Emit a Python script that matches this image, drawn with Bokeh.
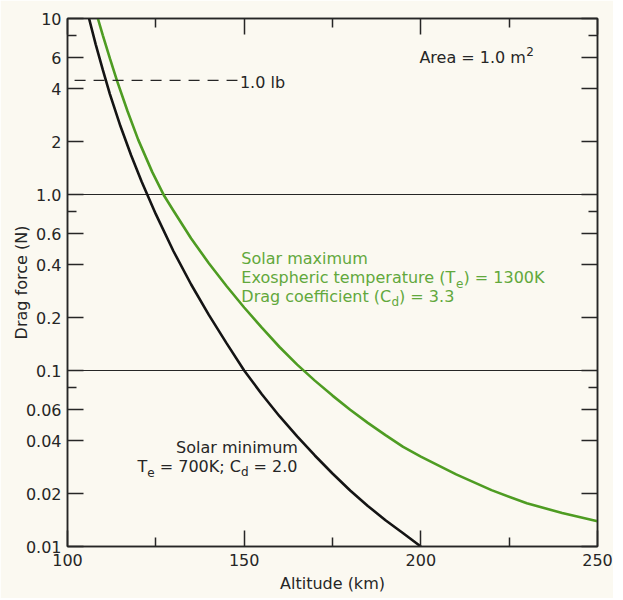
from bokeh.plotting import figure
from bokeh.models import (Range1d, FixedTicker, LinearAxis, LogAxis, Label,
                          CustomJSTickFormatter)
from bokeh.embed import file_html
from bokeh.resources import INLINE

# ---------------- data ----------------
alt_min = [106.1, 108, 110, 112, 115, 118, 121, 125, 130, 135, 140, 145, 150,
           155, 160, 165, 170, 175, 180, 185, 190, 195, 200]
force_min = [10.0, 7.11, 5.10, 3.72, 2.44, 1.67, 1.18, 0.773, 0.476, 0.308,
             0.207, 0.143, 0.100, 0.0733, 0.0550, 0.0422, 0.0329, 0.0260,
             0.0208, 0.0170, 0.0141, 0.0119, 0.0100]

alt_max = [108.6, 110, 112, 114, 117, 120, 124, 127.4, 130, 135, 140, 145, 150,
           155, 160, 165, 170, 175, 180, 185, 190, 195, 200, 210, 220, 230,
           240, 250]
force_max = [10.0, 8.03, 5.93, 4.44, 2.97, 2.05, 1.34, 0.98, 0.809, 0.562,
             0.407, 0.302, 0.228, 0.175, 0.136, 0.108, 0.0876, 0.0720, 0.0599,
             0.0504, 0.0429, 0.0368, 0.0324, 0.0257, 0.0209, 0.0176, 0.0155,
             0.0139]

lb_force = 4.448          # 1.0 lb expressed in newtons
lb_alt = [102, 148.1]     # extent of the dashed reference line

x_ticks = [100, 150, 200, 250]
x_minor = [125, 175, 225]
y_ticks = [0.01, 0.02, 0.04, 0.06, 0.1, 0.2, 0.4, 0.6, 1.0, 2, 4, 6, 10]
y_tick_labels = ["0.01", "0.02", "0.04", "0.06", "0.1", "0.2", "0.4", "0.6",
                 "1.0", "2", "4", "6", "10"]
y_minor = [0.08, 0.8, 8]
y_grid = [0.1, 1.0]

# ---------------- styling ----------------
BG = "#fbf9f1"
INK = "#262626"
GREEN_LINE = "#4e9c22"
GREEN_TEXT = "#62a83c"
FONT = "DejaVu Sans"

p = figure(width=613, height=598, x_range=Range1d(100, 250),
           y_range=Range1d(0.01, 10), y_axis_type="log",
           output_backend="svg", toolbar_location=None,
           min_border_left=67, min_border_right=16, min_border_top=18,
           min_border_bottom=52)
p.background_fill_color = BG
p.border_fill_color = BG
p.outline_line_color = INK
p.outline_line_width = 1.5

# grid: only the 0.1 and 1.0 lines
p.xgrid.visible = False
p.ygrid.ticker = FixedTicker(ticks=y_grid)
p.ygrid.grid_line_color = INK
p.ygrid.grid_line_width = 1.2


def style_axis(ax):
    ax.axis_line_color = INK
    ax.axis_line_width = 1.5
    ax.major_tick_line_color = INK
    ax.minor_tick_line_color = INK
    ax.major_tick_line_width = 1.5
    ax.minor_tick_line_width = 1.5
    ax.major_tick_in = 16
    ax.major_tick_out = 0
    ax.minor_tick_in = 9
    ax.minor_tick_out = 0
    ax.major_label_text_font = FONT
    ax.major_label_text_font_size = "16px"
    ax.major_label_text_color = INK
    ax.axis_label_text_font = FONT
    ax.axis_label_text_font_size = "16px"
    ax.axis_label_text_font_style = "normal"
    ax.axis_label_text_color = INK


xax = p.xaxis[0]
xax.ticker = FixedTicker(ticks=x_ticks, minor_ticks=x_minor)
xax.axis_label = "Altitude (km)"
xax.major_label_standoff = 7
xax.axis_label_standoff = 5
style_axis(xax)

yax = p.yaxis[0]
yax.ticker = FixedTicker(ticks=y_ticks, minor_ticks=y_minor)
yax.major_label_overrides = dict(zip(y_ticks, y_tick_labels))
yax.axis_label = "Drag force (N)"
yax.major_label_standoff = 6
yax.axis_label_standoff = -8
style_axis(yax)

blank = CustomJSTickFormatter(code="return ''")
for ax, side in ((LinearAxis(ticker=FixedTicker(ticks=x_ticks,
                                                minor_ticks=x_minor)), "above"),
                 (LogAxis(ticker=FixedTicker(ticks=y_ticks,
                                             minor_ticks=y_minor)), "right")):
    ax.formatter = blank
    style_axis(ax)
    ax.major_label_standoff = 0
    ax.axis_label_standoff = 0
    ax.major_label_text_font_size = "0px"
    ax.axis_label_text_font_size = "0px"
    p.add_layout(ax, side)

# curves
p.line(alt_min, force_min, line_color="#141414", line_width=2.6)
p.line(alt_max, force_max, line_color=GREEN_LINE, line_width=2.6)

# 1.0 lb dashed reference
p.line(lb_alt, [lb_force, lb_force], line_color=INK, line_width=1.3,
       line_dash="11 8")

# ---------------- annotations ----------------
NBSP = "\u00a0"
# DejaVu Sans advance widths (units of 1/2048 em)
ADV = {" ": 651, NBSP: 651, "(": 799, ")": 799, "=": 1716, ".": 651,
       ";": 690, "K": 1343, "T": 1251, "C": 1430, "D": 1577, "E": 1294,
       "A": 1401, "a": 1255, "c": 1126, "d": 1300, "e": 1260, "f": 721,
       "g": 1300, "h": 1298, "i": 569, "m": 1995, "n": 1298, "o": 1253,
       "p": 1300, "r": 842, "s": 1067, "t": 803, "u": 1298, "x": 1212,
       "l": 569, "b": 1300}
for dch in "0123456789":
    ADV[dch] = 1303


def text_width(s, size):
    return sum(ADV.get(ch, 1250) for ch in s) / 2048.0 * size


def rich(x, y, parts, color, align="left", size=16):
    sub_size = 12
    parts = [(t.replace(" ", NBSP), k) for t, k in parts]
    sizes = [sub_size if kind != "n" else size for _, kind in parts]
    widths = [text_width(t, s) for (t, _), s in zip(parts, sizes)]
    start = 0.0 if align == "left" else -sum(widths)
    cum = start
    for (t, kind), s, w in zip(parts, sizes, widths):
        dy = {"n": 0, "sub": -6, "sup": 6}[kind]
        p.add_layout(Label(x=x, y=y, x_offset=cum, y_offset=dy, text=t,
                           text_font=FONT, text_font_size=f"{s}px",
                           text_color=color, text_align="left",
                           text_baseline="alphabetic"))
        cum += w


rich(199.6, 5.98, [("Area = 1.0 m", "n"), ("2", "sup")], INK)
rich(148.8, 4.31, [("1.0 lb", "n")], INK)

rich(149.2, 0.431, [("Solar maximum", "n")], GREEN_TEXT)
rich(149.2, 0.339, [("Exospheric temperature (T", "n"), ("e", "sub"),
                    (") = 1300K", "n")], GREEN_TEXT)
rich(149.2, 0.2643, [("Drag coefficient (C", "n"), ("d", "sub"),
                     (") = 3.3", "n")], GREEN_TEXT)

rich(165.1, 0.03635, [("Solar minimum", "n")], INK, align="right")
rich(165.1, 0.0286, [("T", "n"), ("e", "sub"), (" = 700K; C", "n"),
                     ("d", "sub"), (" = 2.0", "n")], INK, align="right")

html = file_html(p, INLINE)
html = html.replace("<body>", f'<body style="background:{BG}">', 1)
open("out.html", "w").write(html)
